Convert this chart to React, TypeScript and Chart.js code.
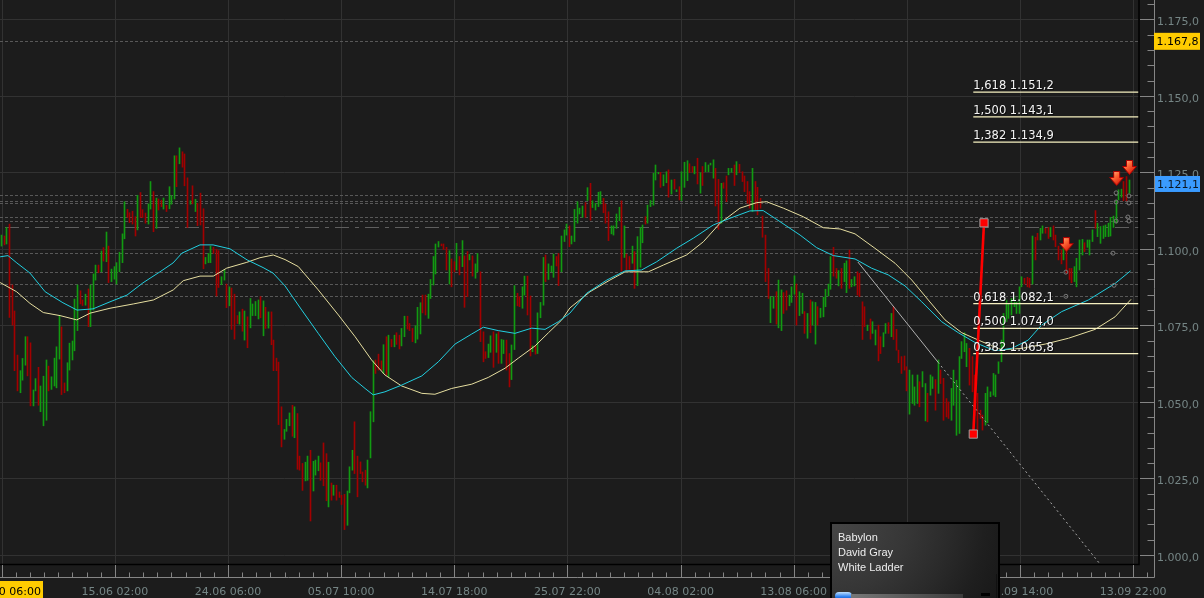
import React, { useEffect, useRef } from "react";
import { Chart, registerables } from "chart.js";

Chart.register(...registerables);

// ---------------- DATA ----------------
const highs: number[] = [
  1104.5, 1104.2, 1107.0, 1108.1, 1088.2, 1079.7, 1065.3, 1060.2, 1064.2, 1071.3,
  1071.3, 1069.3, 1053.9, 1057.6, 1061.3, 1055.2, 1058.4, 1063.7, 1061.7, 1058.2,
  1064.3, 1068.0, 1078.2, 1074.5, 1056.2, 1062.8, 1069.2, 1069.9, 1083.6, 1088.2,
  1086.3, 1083.3, 1085.2, 1086.9, 1088.2, 1091.8, 1094.7, 1094.7, 1099.3, 1100.4,
  1105.5, 1100.9, 1093.4, 1094.2, 1095.5, 1098.9, 1104.9, 1115.4, 1112.9, 1111.8,
  1112.3, 1110.5, 1117.5, 1118.4, 1112.8, 1111.7, 1114.7, 1122.0, 1118.7, 1116.6,
  1116.3, 1115.9, 1116.6, 1114.2, 1120.3, 1117.4, 1130.4, 1130.4, 1133.0, 1131.7,
  1131.0, 1123.2, 1115.7, 1120.6, 1116.2, 1114.9, 1118.2, 1113.1, 1097.2, 1098.5,
  1100.9, 1100.5, 1099.9, 1099.4, 1090.9, 1093.1, 1088.5, 1087.6, 1087.2, 1085.2,
  1078.2, 1079.4, 1080.3, 1079.7, 1077.8, 1083.8, 1082.0, 1082.8, 1083.3, 1084.4,
  1083.0, 1080.9, 1079.4, 1079.4, 1070.2, 1064.3, 1063.0, 1048.4,
  1041.0, 1044.3, 1046.4, 1048.9, 1048.4, 1046.2, 1032.3, 1029.9, 1030.3, 1032.3,
  1034.2, 1030.6, 1031.0, 1032.3, 1030.1, 1036.6, 1033.1, 1030.3, 1023.5, 1022.8,
  1022.8, 1020.6, 1019.5, 1019.8, 1020.9, 1028.8, 1034.2, 1043.5, 1032.3, 1030.4,
  1027.1, 1027.7, 1031.0, 1046.8, 1063.4, 1063.7, 1065.6, 1063.4, 1068.7, 1071.3,
  1071.8, 1070.4, 1071.8, 1072.6, 1071.8, 1074.0, 1078.0, 1078.0, 1075.6, 1074.0,
  1074.9, 1080.9, 1082.4, 1084.9, 1084.9, 1085.2, 1090.0, 1097.5, 1101.6, 1102.4,
  1101.6, 1101.6, 1100.5, 1099.4, 1096.7, 1095.8, 1101.8, 1097.5, 1102.7, 1097.7,
  1099.1, 1098.2, 1097.7, 1095.1, 1098.5, 1092.5, 1072.9, 1066.4, 1068.9, 1071.6,
  1072.9, 1072.2, 1072.9, 1070.4, 1070.2, 1070.2, 1065.8, 1068.6, 1088.0, 1085.5,
  1084.4, 1087.6, 1091.1, 1091.1, 1084.6, 1068.3, 1068.3, 1079.1, 1082.5, 1097.2,
  1098.0, 1095.1, 1094.4, 1098.3, 1097.5, 1098.5, 1104.2, 1106.2, 1108.1,
  1107.5, 1104.2, 1112.9, 1115.4, 1113.3, 1114.0, 1115.1, 1120.0, 1121.4, 1115.7,
  1114.9, 1118.5, 1118.7, 1116.5, 1114.7, 1112.1, 1107.5, 1107.5, 1111.4, 1113.6,
  1115.7, 1107.5, 1098.3, 1097.5, 1100.9, 1099.1, 1104.0, 1107.0, 1107.8, 1110.5,
  1114.3, 1115.8, 1124.7, 1127.4, 1125.0, 1125.0, 1124.2, 1125.2, 1125.8, 1122.5,
  1122.7, 1119.3, 1120.3, 1125.2, 1128.3, 1128.8, 1127.8, 1126.9, 1126.9, 1129.6,
  1124.9, 1126.9, 1128.2, 1127.4, 1128.0, 1129.1, 1126.3, 1122.7, 1121.4, 1121.6,
  1123.8, 1126.3, 1126.3, 1127.4, 1128.5, 1127.6, 1125.2, 1123.8, 1122.0, 1118.7,
  1126.3, 1122.0, 1120.1, 1116.5, 1110.7, 1104.5, 1093.6, 1084.4, 1084.4, 1086.0,
  1089.8, 1086.6, 1085.7, 1086.3, 1084.9, 1087.6, 1091.2, 1088.5, 1086.0, 1085.5,
  1079.5, 1078.9, 1083.3, 1082.7, 1082.5, 1081.1, 1080.6, 1084.2, 1086.8, 1088.5,
  1097.5, 1100.5, 1093.6, 1092.9, 1093.6, 1095.3, 1096.1, 1099.6, 1090.0, 1090.9,
  1092.5, 1092.0, 1082.7, 1081.1, 1075.1, 1077.1, 1076.2, 1073.5, 1075.1, 1071.3,
  1072.6, 1075.6, 1075.9, 1078.9, 1081.1, 1073.7, 1066.9, 1064.8, 1065.0, 1061.5,
  1060.4, 1058.8, 1054.9, 1058.8, 1056.6, 1059.9, 1056.0, 1052.8, 1058.8, 1058.2,
  1057.3, 1063.7, 1060.4, 1057.7, 1051.1, 1050.0, 1054.4, 1060.4, 1057.1, 1064.8,
  1069.7, 1072.6, 1069.1, 1067.5, 1064.8, 1058.8, 1052.8, 1047.3, 1045.7, 1052.8,
  1054.9, 1053.3, 1059.3, 1058.8, 1063.1, 1070.2, 1078.9, 1083.3, 1082.2, 1083.8,
  1084.4, 1082.7, 1087.6, 1090.9, 1090.4, 1090.7, 1090.4, 1104.2, 1103.8, 1105.1,
  1106.7, 1107.5, 1106.7, 1107.0, 1107.0, 1107.5, 1104.5, 1100.9, 1099.6, 1100.2,
  1099.6, 1093.6, 1093.6, 1094.2, 1096.9, 1102.9, 1103.1, 1102.0, 1102.9, 1102.9,
  1106.2, 1112.5, 1108.4, 1107.3, 1107.5, 1107.8, 1108.4, 1110.3, 1110.7, 1115.8,
  1119.3, 1119.5, 1122.0, 1123.6, 1122.5,
];

const lows: number[] = [
  1100.9, 1101.3, 1101.6, 1077.6, 1075.1, 1060.2, 1053.6, 1053.0, 1057.1, 1062.0,
  1058.5, 1048.7, 1048.7, 1053.6, 1048.9, 1046.8, 1042.2, 1044.0, 1053.6, 1054.1,
  1055.2, 1054.6, 1064.0, 1052.4, 1053.0, 1053.6, 1060.4, 1063.7, 1066.7, 1073.3,
  1082.0, 1081.5, 1081.6, 1074.6, 1074.6, 1080.0, 1089.8, 1092.2, 1092.5, 1096.0,
  1095.8, 1089.0, 1089.3, 1090.1, 1088.5, 1092.5, 1095.5, 1103.3, 1110.3, 1108.6,
  1108.1, 1104.2, 1106.2, 1110.3, 1110.2, 1108.4, 1108.1, 1113.0, 1105.6, 1106.7,
  1112.7, 1113.8, 1113.0, 1112.2, 1113.1, 1114.6, 1116.3, 1120.3, 1127.8, 1126.7,
  1120.6, 1107.0, 1114.6, 1114.7, 1112.2, 1107.6, 1107.8, 1093.5, 1095.1, 1095.5,
  1095.5, 1098.5, 1084.6, 1087.4, 1088.3, 1089.8, 1080.8, 1081.4, 1073.7, 1070.5,
  1075.6, 1075.4, 1073.1, 1070.2, 1067.7, 1074.2, 1078.2, 1078.2, 1077.1, 1077.5,
  1071.6, 1074.0, 1074.1, 1068.7, 1060.2, 1060.2, 1042.6, 1035.3,
  1037.8, 1040.4, 1042.2, 1038.8, 1038.3, 1028.0, 1027.7, 1021.1, 1024.2, 1024.4,
  1011.1, 1020.9, 1026.1, 1027.5, 1024.4, 1022.6, 1017.7, 1015.7, 1017.9, 1019.5,
  1017.9, 1018.8, 1016.5, 1008.3, 1009.7, 1020.3, 1027.7, 1026.6, 1019.0, 1026.6,
  1023.9, 1022.8, 1021.9, 1031.7, 1043.5, 1059.3, 1060.4, 1060.4, 1059.3, 1058.8,
  1058.2, 1068.0, 1068.0, 1068.8, 1067.3, 1068.3, 1071.3, 1073.8, 1073.3, 1069.7,
  1069.3, 1070.5, 1072.2, 1079.1, 1078.4, 1077.3, 1083.8, 1088.2, 1091.8, 1100.6,
  1101.0, 1099.8, 1093.1, 1088.5, 1087.6, 1092.5, 1093.1, 1091.5, 1094.2, 1080.9,
  1084.4, 1096.4, 1091.1, 1090.4, 1092.5, 1069.7, 1063.1, 1064.2, 1064.5, 1066.2,
  1061.3, 1066.2, 1062.6, 1062.6, 1065.8, 1060.4, 1054.9, 1057.3, 1067.1, 1081.4,
  1081.1, 1080.6, 1084.9, 1078.4, 1065.0, 1066.4, 1065.6, 1065.8, 1077.5, 1081.6,
  1089.3, 1090.0, 1092.5, 1090.7, 1094.4, 1088.0, 1092.5, 1102.4, 1104.5,
  1100.7, 1101.6, 1102.4, 1108.4, 1111.4, 1110.3, 1110.3, 1115.8, 1109.4, 1113.5,
  1112.7, 1113.8, 1114.7, 1111.8, 1108.4, 1102.7, 1104.9, 1104.5, 1106.7, 1109.2,
  1092.7, 1097.2, 1092.9, 1093.3, 1095.3, 1087.1, 1088.0, 1094.0, 1102.0, 1108.1,
  1108.4, 1113.8, 1114.3, 1122.5, 1124.5, 1120.1, 1120.6, 1121.6, 1116.9, 1117.9,
  1119.5, 1118.7, 1116.0, 1115.8, 1120.1, 1122.3, 1124.9, 1125.0, 1124.5, 1121.2,
  1118.2, 1120.7, 1125.2, 1125.2, 1127.4, 1123.1, 1114.0, 1106.4, 1108.4, 1119.8,
  1115.4, 1124.2, 1125.0, 1120.7, 1124.2, 1124.9, 1122.0, 1118.7, 1114.9, 1113.3,
  1112.2, 1112.7, 1111.1, 1113.3, 1103.8, 1089.3, 1083.8, 1075.9, 1080.6, 1075.4,
  1074.2, 1073.3, 1078.9, 1080.0, 1081.4, 1082.5, 1085.2, 1075.1, 1078.2, 1078.9,
  1072.4, 1070.8, 1072.6, 1075.1, 1068.9, 1075.1, 1077.6, 1077.8, 1081.1, 1084.6,
  1086.8, 1091.1, 1090.4, 1087.9, 1087.1, 1089.3, 1085.7, 1087.1, 1087.6, 1087.9,
  1084.9, 1084.4, 1070.4, 1074.6, 1073.3, 1070.5, 1072.4, 1068.6, 1063.4, 1065.8,
  1068.0, 1072.4, 1072.4, 1071.3, 1070.4, 1066.9, 1062.8, 1059.3, 1060.4, 1053.6,
  1046.0, 1049.5, 1048.9, 1049.5, 1048.4, 1054.9, 1043.8, 1043.5, 1052.2, 1054.4,
  1047.3, 1052.8, 1056.0, 1044.0, 1045.1, 1044.6, 1044.0, 1048.9, 1039.1, 1039.7,
  1064.2, 1066.4, 1061.5, 1055.5, 1053.3, 1045.7, 1040.8, 1044.6, 1040.8, 1042.4,
  1043.2, 1051.7, 1052.2, 1051.7, 1059.3, 1063.1, 1068.0, 1076.2, 1077.3, 1078.4,
  1081.1, 1078.9, 1078.9, 1087.6, 1088.5, 1087.6, 1087.4, 1088.5, 1096.4, 1102.9,
  1102.9, 1105.1, 1105.1, 1103.4, 1104.0, 1102.9, 1100.7, 1096.4, 1095.1, 1096.4,
  1092.0, 1090.0, 1088.9, 1089.3, 1087.6, 1093.1, 1098.0, 1099.1, 1100.5, 1098.0,
  1102.4, 1106.7, 1104.0, 1101.8, 1103.4, 1104.0, 1104.0, 1104.2, 1107.0, 1108.4,
  1116.0, 1116.9, 1115.7, 1115.7, 1118.2,
];

// G = rising bar (green), R = falling bar (red)
const barDirs = (
  "GRGRRRRGGG RRGGRGGGRG GGGRRGGGGG RRGRGGGRGR GRGGGGGGRR RRGRRRGGRG RRGRGGGRGR RRGRGRRRGG GRRRGGRGRR RGRGRGGGGR GRGRRRRR" +
  "GGGRGRRRGG RGGGRRRGRG RRRRGGGRRR RRGGGRRRGR GRGRRGGRRR GGGRRGGGGG RRRGRRGRGR RGRGGRRRGG RGRGGRRGGR RGGRRGRGGG RGGGRRGGG" +
  "RGGGGGRGRG GGGRRRGGGG RGRRGRGGGR GGGGGRGGRG RGRGGGRRGR GRGGGGRRGR RGGRGRRRRR GRRRRRRGGR GGRRGGGRGG RGRGGRGGGG GRRGRGGRGG" +
  "RRRRGRGGRR GGRGRRRRRR GGGGRGGRGG RGRRRRGGGG GGGRRRRRRG GGGGGGGGGG GGGGRRRGRR GGRRGRRRRG RRRGGGGRGG GRGGGGGGGG GGRRG"
).replace(/\s/g, "");

// moving averages: [bar index, value]
const fastMA: [number, number][] = [
  [-0.6, 1097.4], [2.4, 1097.8], [5.8, 1095.4], [10.8, 1092.1], [16.6, 1086.0], [23.4, 1082.4],
  [28.8, 1080.0], [34.9, 1080.4], [41.4, 1082.7], [47.9, 1084.9], [54.0, 1088.9], [60.5, 1092.5],
  [65.5, 1095.4], [68.9, 1098.6], [75.8, 1101.3], [80.8, 1101.3], [87.3, 1100.0], [93.8, 1096.4],
  [99.9, 1093.9], [103.7, 1092.1], [108.3, 1087.9], [114.7, 1080.0], [121.0, 1072.4], [127.4, 1064.8],
  [133.8, 1058.0], [138.9, 1054.4], [142.0, 1052.3], [146.5, 1053.3], [152.9, 1055.5], [160.6, 1058.5],
  [166.9, 1063.1], [173.3, 1068.9], [179.7, 1072.2], [184.1, 1074.4], [189.8, 1073.3], [196.2, 1072.4],
  [202.6, 1074.1], [207.7, 1073.7], [212.8, 1076.2], [217.2, 1079.0], [223.6, 1085.5], [231.3, 1089.8],
  [238.3, 1092.8], [244.6, 1093.1], [250.4, 1095.8], [258.0, 1100.2], [264.4, 1103.5], [272.0, 1107.8],
  [278.4, 1110.0], [286.0, 1112.4], [291.1, 1112.5], [297.5, 1108.9], [305.2, 1104.5], [311.5, 1100.4],
  [317.9, 1097.8], [326.2, 1096.7], [332.5, 1093.7], [338.9, 1091.5], [345.3, 1087.9], [351.7, 1082.7],
  [359.3, 1076.2], [365.7, 1072.6], [372.1, 1069.4], [379.7, 1066.7], [386.1, 1067.5], [392.4, 1070.2],
  [397.5, 1075.1], [405.2, 1079.5], [415.4, 1083.3], [425.6, 1088.7], [431.5, 1092.8],
];

const slowMA: [number, number][] = [
  [-0.6, 1089.0], [5.7, 1086.0], [10.8, 1082.2], [15.9, 1079.2], [22.3, 1078.2], [28.7, 1076.8],
  [33.8, 1079.0], [41.4, 1080.6], [50.3, 1082.0], [58.0, 1083.3], [65.6, 1086.6], [69.4, 1089.6],
  [75.8, 1091.1], [80.9, 1091.1], [86.0, 1093.7], [93.7, 1095.6], [98.7, 1097.1], [103.8, 1098.0],
  [108.3, 1096.5], [113.4, 1094.2], [121.0, 1086.6], [128.7, 1078.4], [135.1, 1071.3], [141.4, 1063.7],
  [146.5, 1058.8], [152.9, 1055.2], [160.6, 1052.8], [165.6, 1052.5], [172.0, 1054.4], [179.7, 1055.8],
  [186.0, 1058.0], [192.4, 1061.0], [197.5, 1064.3], [203.9, 1068.3], [209.0, 1072.6], [214.1, 1076.8],
  [217.2, 1080.7], [224.9, 1086.0], [232.5, 1089.8], [238.3, 1092.5], [247.2, 1092.5], [252.9, 1094.7],
  [261.8, 1098.0], [268.2, 1102.3], [274.6, 1108.4], [282.2, 1113.3], [288.6, 1115.1], [292.4, 1115.4],
  [298.8, 1113.3], [306.4, 1110.5], [314.1, 1106.9], [320.5, 1106.5], [326.2, 1104.9], [333.8, 1100.2],
  [341.5, 1095.3], [347.9, 1089.8], [354.2, 1083.3], [360.6, 1076.8], [367.0, 1072.6], [374.7, 1069.7],
  [382.3, 1067.0], [390.0, 1067.5], [398.9, 1068.9], [407.8, 1070.8], [418.0, 1073.7], [425.6, 1077.8],
  [431.7, 1083.5],
];

const priceTicks = [1000, 1025, 1050, 1075, 1100, 1125, 1150, 1175];
const timeTickIdx = [0, 43.25, 86.5, 129.75, 173, 216.25, 259.5, 302.75, 346, 389.25, 432.5];
const timeLabels = ["", "15.06 02:00", "24.06 06:00", "05.07 10:00", "14.07 18:00", "25.07 22:00",
  "04.08 02:00", "13.08 06:00", "24.08 10:00", "02.09 14:00", "13.09 22:00"];
const cursorTimeLabel = "2010 06:00";

const levelLines = [1167.8, 1117.5, 1115.6, 1115.0, 1110.3, 1109.1, 1098.5, 1092.3, 1088.4, 1084.5];
const pivotLevel = 1107.0;

const fibLabels = ["1,618", "1,500", "1,382", "0,618", "0,500", "0,382"];
const fibValues = [1151.2, 1143.1, 1134.9, 1082.1, 1074.0, 1065.8];
const fibStartIdx = 371.4;

const swingIdx = [371.4, 375.5];
const swingVal = [1039.5, 1108.5];

const trendIdx = [327.3, 357.9, 419.5];
const trendVal = [1095.7, 1063.0, 997.4];

const arrowIdx = [407.0, 426.2, 431.1];
const arrowVal = [1101.4, 1123.0, 1126.6];

const markerIdx = [430.9, 430.9, 430.5, 430.9, 426.0, 426.0, 426.0, 424.8, 406.8, 406.8, 425.2];
const markerVal = [1117.3, 1115.0, 1110.4, 1109.1, 1118.3, 1115.3, 1109.1, 1098.6, 1092.4, 1084.5, 1088.1];

const crossPrice = 1167.8;
const lastPrice = 1121.1;

const mediaLines = ["Babylon", "David Gray", "White Ladder"];

// ---------------- LAYOUT ----------------
const W = 1204;
const H = 598;
const X_MIN = -0.65;
const X_MAX = 434.75;
const Y_MIN = 997.05;
const Y_MAX = 1181.3;
const AXIS_X = 1154.5;
const AXIS_Y = 577.5;

const fmt = (v: number) => {
  const [i, d] = v.toFixed(1).split(".");
  return i.replace(/\B(?=(\d{3})+(?!\d))/g, ".") + "," + d;
};

function makeArrow(): HTMLCanvasElement {
  const c = document.createElement("canvas");
  c.width = 15;
  c.height = 15;
  const g = c.getContext("2d")!;
  const grad = g.createLinearGradient(1, 0, 13, 14);
  grad.addColorStop(0, "#ffc8a0");
  grad.addColorStop(0.4, "#ff6a38");
  grad.addColorStop(1, "#d40800");
  g.beginPath();
  g.moveTo(4.5, 0.5);
  g.lineTo(10.5, 0.5);
  g.lineTo(10.5, 6.5);
  g.lineTo(14.3, 6.5);
  g.lineTo(7.5, 14.5);
  g.lineTo(0.7, 6.5);
  g.lineTo(4.5, 6.5);
  g.closePath();
  g.fillStyle = grad;
  g.fill();
  g.strokeStyle = "#b00000";
  g.lineWidth = 1;
  g.stroke();
  return c;
}

const chromePlugin = {
  id: "chrome",
  beforeDraw(chart: any) {
    const ctx = chart.ctx;
    ctx.save();
    ctx.fillStyle = "#1c1c1c";
    ctx.fillRect(0, 0, chart.width, chart.height);
    ctx.restore();
  },
  afterDatasetsUpdate(chart: any) {
    const meta = chart.getDatasetMeta(0);
    meta.data.forEach((el: any) => {
      el.x = Math.floor(el.x) + 0.5;
    });
  },
  beforeDatasetsDraw(chart: any) {
    const { ctx, chartArea: ca } = chart;
    const xs = chart.scales.x;
    const ys = chart.scales.y;
    ctx.save();
    ctx.lineWidth = 1;
    ctx.strokeStyle = "#323232";
    timeTickIdx.forEach((t) => {
      const x = Math.round(xs.getPixelForValue(t)) + 0.5;
      ctx.beginPath();
      ctx.moveTo(x, ca.top);
      ctx.lineTo(x, ca.bottom);
      ctx.stroke();
    });
    priceTicks.forEach((v) => {
      const y = Math.round(ys.getPixelForValue(v)) + 0.5;
      ctx.beginPath();
      ctx.moveTo(ca.left, y);
      ctx.lineTo(ca.right, y);
      ctx.stroke();
    });
    ctx.strokeStyle = "#585858";
    ctx.setLineDash([3, 2]);
    levelLines.forEach((v) => {
      const y = Math.round(ys.getPixelForValue(v)) + 0.5;
      ctx.beginPath();
      ctx.moveTo(ca.left, y);
      ctx.lineTo(ca.right, y);
      ctx.stroke();
    });
    ctx.strokeStyle = "#5e5e5e";
    ctx.setLineDash([14, 6, 4, 6]);
    const py = Math.round(ys.getPixelForValue(pivotLevel)) + 0.5;
    ctx.beginPath();
    ctx.moveTo(ca.left + 5, py);
    ctx.lineTo(ca.right, py);
    ctx.stroke();
    ctx.restore();
  },
  afterDatasetsDraw(chart: any) {
    const { ctx, chartArea: ca } = chart;
    const xs = chart.scales.x;
    const ys = chart.scales.y;
    ctx.save();
    // fibonacci labels
    ctx.font = "11.5px 'DejaVu Sans', sans-serif";
    ctx.textBaseline = "alphabetic";
    ctx.textAlign = "left";
    const fx = xs.getPixelForValue(fibStartIdx);
    fibValues.forEach((v, i) => {
      const y = ys.getPixelForValue(v);
      const txt = fibLabels[i] + " " + fmt(v);
      ctx.fillStyle = "rgba(0,0,0,0.6)";
      ctx.fillText(txt, fx + 1, y - 2);
      ctx.fillStyle = "#f4f4f4";
      ctx.fillText(txt, fx, y - 3);
    });
    // plot border
    ctx.strokeStyle = "#000000";
    ctx.lineWidth = 1.5;
    ctx.beginPath();
    ctx.moveTo(ca.right, 0);
    ctx.lineTo(ca.right, ca.bottom + 0.5);
    ctx.lineTo(0, ca.bottom + 0.5);
    ctx.stroke();
    // axes
    ctx.strokeStyle = "#858585";
    ctx.lineWidth = 1;
    ctx.beginPath();
    ctx.moveTo(AXIS_X, 0);
    ctx.lineTo(AXIS_X, AXIS_Y);
    ctx.lineTo(0, AXIS_Y);
    ctx.stroke();
    // right ticks
    for (let v = 995; v <= 1185; v += 5) {
      const y = Math.round(ys.getPixelForValue(v)) + 0.5;
      if (y < 0 || y > ca.bottom) continue;
      const major = v % 25 === 0;
      ctx.beginPath();
      ctx.moveTo(major ? ca.right + 1 : AXIS_X - 7, y);
      ctx.lineTo(AXIS_X, y);
      ctx.stroke();
    }
    // bottom ticks
    const minor = (timeTickIdx[1] - timeTickIdx[0]) / 8;
    for (let k = 0; k < 100; k++) {
      const x = Math.round(xs.getPixelForValue(k * minor)) + 0.5;
      if (x > AXIS_X) break;
      const major = k % 8 === 0;
      ctx.beginPath();
      ctx.moveTo(x, major ? ca.bottom + 1 : AXIS_Y - 5);
      ctx.lineTo(x, AXIS_Y);
      ctx.stroke();
    }
    // labels
    ctx.font = "11px 'DejaVu Sans', sans-serif";
    ctx.fillStyle = "#758585";
    ctx.textAlign = "left";
    priceTicks.forEach((v) => {
      const y = ys.getPixelForValue(v);
      ctx.fillText(fmt(v), AXIS_X + 2.5, y + 6);
    });
    ctx.textAlign = "center";
    timeLabels.forEach((lab, i) => {
      if (!lab) return;
      ctx.fillText(lab, xs.getPixelForValue(timeTickIdx[i]), 595);
    });
    // cursor time label (bottom-left)
    ctx.fillStyle = "#ffcc00";
    ctx.fillRect(0, 581, 43, 17);
    ctx.fillStyle = "#000000";
    ctx.textAlign = "right";
    ctx.fillText(cursorTimeLabel, 41, 595);
    // price highlight boxes
    ctx.textAlign = "left";
    const cy = ys.getPixelForValue(crossPrice);
    ctx.fillStyle = "#ffcc00";
    ctx.fillRect(AXIS_X - 0.5, cy - 8.5, 46, 17);
    ctx.fillStyle = "#000000";
    ctx.fillText(fmt(crossPrice), AXIS_X + 2, cy + 4);
    const ly = ys.getPixelForValue(lastPrice);
    ctx.fillStyle = "#3a9bff";
    ctx.fillRect(AXIS_X + 0.5, ly - 8.3, 45, 16);
    ctx.fillStyle = "#0c1620";
    ctx.fillText(fmt(lastPrice), AXIS_X + 2.5, ly + 4);
    ctx.restore();
  },
};

export default function App() {
  const ref = useRef<HTMLCanvasElement | null>(null);

  useEffect(() => {
    const canvas = ref.current;
    if (!canvas) return;
    const n = Math.min(highs.length, lows.length, barDirs.length);
    const barData = [] as any[];
    const barColors: string[] = [];
    for (let i = 0; i < n; i++) {
      barData.push({ x: i, y: [lows[i], highs[i]] });
      barColors.push(barDirs[i] === "G" ? "#129a12" : "#a20000");
    }
    const arrow = makeArrow();
    const lineDs = (data: any[], color: string, order: number, extra: any = {}) => ({
      type: "line",
      data,
      borderColor: color,
      borderWidth: 1,
      pointRadius: 0,
      fill: false,
      tension: 0,
      order,
      ...extra,
    });

    const datasets: any[] = [
      {
        type: "bar",
        label: "price",
        data: barData,
        backgroundColor: barColors,
        borderWidth: 0,
        barThickness: 1,
        grouped: false,
        order: 20,
      },
      lineDs(slowMA.map(([x, y]) => ({ x, y })), "#e6dea0", 12),
      lineDs(fastMA.map(([x, y]) => ({ x, y })), "#22cfe0", 11),
      ...fibValues.map((v) =>
        lineDs([{ x: fibStartIdx, y: v }, { x: X_MAX, y: v }], "#f6f0c0", 9, { borderWidth: 1.2 })
      ),
      lineDs(
        [{ x: trendIdx[0], y: trendVal[0] }, { x: trendIdx[1], y: trendVal[1] }],
        "#b0b0b0",
        8
      ),
      lineDs(
        [{ x: trendIdx[1], y: trendVal[1] }, { x: trendIdx[2], y: trendVal[2] }],
        "#a8a8a8",
        8,
        { borderDash: [2, 3] }
      ),
      lineDs(
        [{ x: swingIdx[0], y: swingVal[0] }, { x: swingIdx[1], y: swingVal[1] }],
        "#ff0000",
        6,
        { borderWidth: 2.6 }
      ),
      lineDs(
        swingIdx.map((x, i) => ({ x, y: swingVal[i] })),
        "#ff0000",
        5,
        {
          showLine: false,
          pointStyle: "rect",
          pointRadius: 5.8,
          pointBackgroundColor: "#ff0000",
          pointBorderColor: "#a0a0a0",
          pointBorderWidth: 1,
        }
      ),
      lineDs(
        markerIdx.map((x, i) => ({ x, y: markerVal[i] })),
        "#7a7a7a",
        4,
        {
          showLine: false,
          pointStyle: "circle",
          pointRadius: 2,
          pointBackgroundColor: "rgba(0,0,0,0)",
          pointBorderColor: "#7a7a7a",
          pointBorderWidth: 1,
        }
      ),
      lineDs(
        arrowIdx.map((x, i) => ({ x, y: arrowVal[i] })),
        "#ff0000",
        3,
        { showLine: false, pointStyle: arrow, pointRadius: 8 }
      ),
    ];

    const chart = new Chart(canvas, {
      type: "bar",
      data: { datasets },
      plugins: [chromePlugin],
      options: {
        responsive: false,
        animation: false,
        devicePixelRatio: 1,
        events: [],
        layout: {
          autoPadding: false,
          padding: { left: 0, top: 0, right: W - 1139, bottom: H - 564 },
        },
        plugins: { legend: { display: false }, tooltip: { enabled: false } },
        scales: {
          x: { type: "linear", min: X_MIN, max: X_MAX, display: false, offset: false },
          y: { type: "linear", min: Y_MIN, max: Y_MAX, display: false, beginAtZero: false },
        },
      },
    } as any);
    return () => chart.destroy();
  }, []);

  return (
    <div
      style={{
        position: "fixed",
        left: 0,
        top: 0,
        width: W,
        height: H,
        overflow: "hidden",
        background: "#1c1c1c",
      }}
    >
      <canvas ref={ref} width={W} height={H} style={{ display: "block", width: W, height: H }} />
      <div
        style={{
          position: "absolute",
          left: 830,
          top: 522,
          width: 170,
          height: 78,
          boxSizing: "border-box",
          border: "2px solid #000",
          background:
            "radial-gradient(ellipse 190px 170px at 0% 0%, #464646 0%, #363636 40%, #2a2a2a 62%, #1f1f1f 80%, #171717 100%)",
          fontFamily: "'Liberation Sans', Arial, sans-serif",
          fontSize: 11,
          color: "#ededed",
          lineHeight: "15px",
          padding: "6px 0 0 6px",
        }}
      >
        {mediaLines.map((t) => (
          <div key={t}>{t}</div>
        ))}
        <div
          style={{
            position: "absolute",
            left: 3,
            top: 68,
            width: 17,
            height: 8,
            borderRadius: 4,
            background: "linear-gradient(#bfe0ff, #2a7ef0 60%, #1450b0)",
          }}
        />
        <div
          style={{
            position: "absolute",
            left: 19,
            top: 70,
            width: 112,
            height: 4,
            background: "linear-gradient(90deg, #777, #3c3c3c)",
          }}
        />
        <div style={{ position: "absolute", left: 149, top: 69, width: 9, height: 3, background: "#000" }} />
        <div style={{ position: "absolute", left: 164, top: 50, width: 1, height: 26, background: "#111" }} />
      </div>
    </div>
  );
}
